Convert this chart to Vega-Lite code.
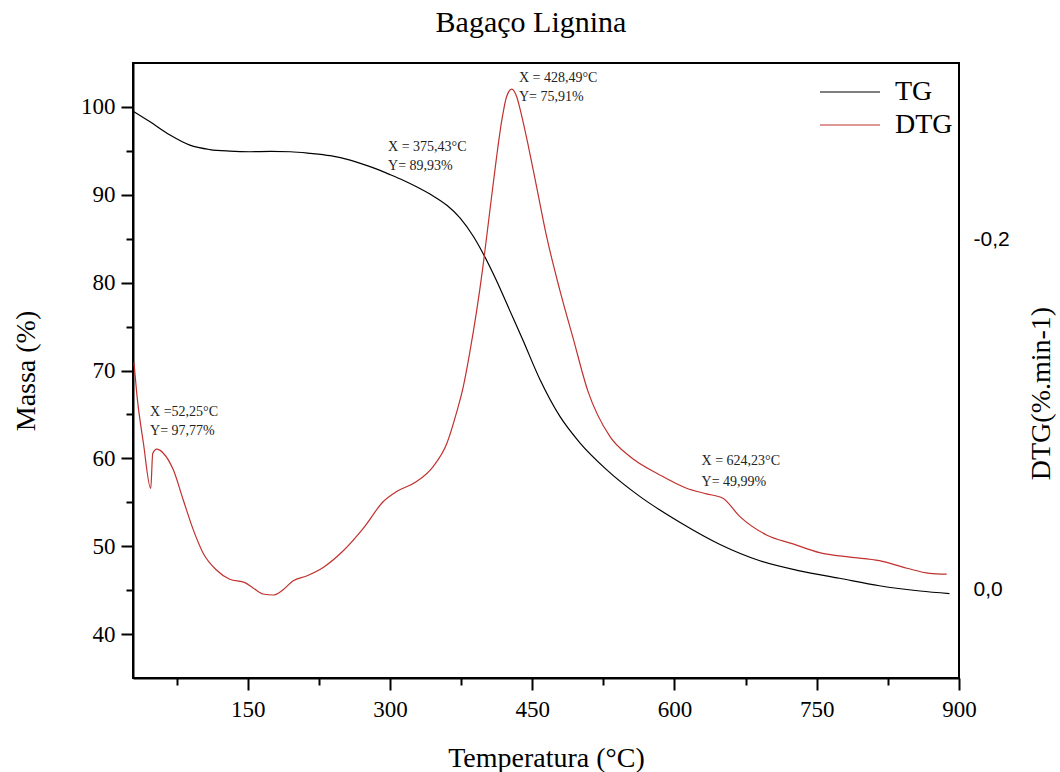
{
  "$schema": "https://vega.github.io/schema/vega-lite/v6.json",
  "width": 826,
  "height": 615,
  "autosize": {"type": "none"},
  "padding": {"left": 133, "top": 63, "right": 101, "bottom": 94},
  "background": "white",
  "title": {"text": "Bagaço Lignina", "font": "Liberation Serif", "fontSize": 30, "fontWeight": "normal", "color": "black", "offset": 25, "dx": -15},
  "datasets": {
    "tg": [
      {"T": 30, "massa": 99.45}, {"T": 47, "massa": 98.3}, {"T": 68, "massa": 96.8}, {"T": 89, "massa": 95.65},
      {"T": 110, "massa": 95.15}, {"T": 131, "massa": 94.97}, {"T": 152, "massa": 94.9}, {"T": 174, "massa": 94.93},
      {"T": 195, "massa": 94.9}, {"T": 216, "massa": 94.72}, {"T": 237, "massa": 94.45}, {"T": 258, "massa": 93.95},
      {"T": 279, "massa": 93.2}, {"T": 300, "massa": 92.3}, {"T": 315, "massa": 91.6}, {"T": 330, "massa": 90.8},
      {"T": 345, "massa": 89.9}, {"T": 360, "massa": 88.8}, {"T": 374, "massa": 87.35}, {"T": 388, "massa": 85.25}, {"T": 398, "massa": 83.35},
      {"T": 412, "massa": 80.3}, {"T": 426, "massa": 76.9}, {"T": 440, "massa": 73.5}, {"T": 458, "massa": 69.0},
      {"T": 479, "massa": 64.8}, {"T": 500, "massa": 61.8}, {"T": 528, "massa": 58.75}, {"T": 563, "massa": 55.7},
      {"T": 606, "massa": 52.7}, {"T": 648, "massa": 50.2}, {"T": 690, "massa": 48.35}, {"T": 732, "massa": 47.2},
      {"T": 774, "massa": 46.35}, {"T": 816, "massa": 45.5}, {"T": 859, "massa": 44.9}, {"T": 890, "massa": 44.6}
    ],
    "dtg": [
      {"T": 30, "dtg": -0.130}, {"T": 33, "dtg": -0.112}, {"T": 40, "dtg": -0.0838}, {"T": 47.7, "dtg": -0.058},
      {"T": 49.8, "dtg": -0.078}, {"T": 54, "dtg": -0.0804}, {"T": 61, "dtg": -0.0781}, {"T": 71.5, "dtg": -0.0686},
      {"T": 82, "dtg": -0.0514}, {"T": 92.6, "dtg": -0.0343}, {"T": 103, "dtg": -0.021}, {"T": 117, "dtg": -0.0114},
      {"T": 131, "dtg": -0.0061}, {"T": 147, "dtg": -0.0042}, {"T": 156, "dtg": -0.001}, {"T": 166, "dtg": 0.0023},
      {"T": 177, "dtg": 0.0029}, {"T": 187, "dtg": 0.0}, {"T": 198, "dtg": -0.0053}, {"T": 212, "dtg": -0.008},
      {"T": 230, "dtg": -0.013}, {"T": 251, "dtg": -0.0225}, {"T": 272, "dtg": -0.0353}, {"T": 293, "dtg": -0.0505},
      {"T": 307, "dtg": -0.0562}, {"T": 328, "dtg": -0.0619}, {"T": 345.5, "dtg": -0.0705}, {"T": 360, "dtg": -0.0838},
      {"T": 370, "dtg": -0.101}, {"T": 377, "dtg": -0.1154}, {"T": 384, "dtg": -0.1353}, {"T": 391, "dtg": -0.1581},
      {"T": 398, "dtg": -0.1847}, {"T": 405, "dtg": -0.2153}, {"T": 412, "dtg": -0.2457}, {"T": 418, "dtg": -0.2686},
      {"T": 423, "dtg": -0.2819}, {"T": 428.5, "dtg": -0.2861}, {"T": 433.5, "dtg": -0.2819}, {"T": 439, "dtg": -0.2705},
      {"T": 446, "dtg": -0.2533}, {"T": 454.5, "dtg": -0.2305}, {"T": 465, "dtg": -0.2023}, {"T": 479, "dtg": -0.1714},
      {"T": 493, "dtg": -0.144}, {"T": 508.6, "dtg": -0.1137}, {"T": 532, "dtg": -0.0876}, {"T": 553, "dtg": -0.0762},
      {"T": 584.5, "dtg": -0.0657}, {"T": 612.7, "dtg": -0.0581}, {"T": 633.7, "dtg": -0.0549}, {"T": 651, "dtg": -0.0524},
      {"T": 669, "dtg": -0.0419}, {"T": 697, "dtg": -0.0314}, {"T": 725, "dtg": -0.0263}, {"T": 753, "dtg": -0.0213},
      {"T": 785, "dtg": -0.0187}, {"T": 816, "dtg": -0.0167}, {"T": 845, "dtg": -0.0124}, {"T": 869, "dtg": -0.0095},
      {"T": 887, "dtg": -0.009}
    ],
    "notes": [
      {"T": 47, "massa": 65.33, "label": "X =52,25°C"},
      {"T": 47, "massa": 63.06, "label": "Y= 97,77%"},
      {"T": 298, "massa": 95.46, "label": "X = 375,43°C"},
      {"T": 298, "massa": 93.27, "label": "Y= 89,93%"},
      {"T": 436, "massa": 103.34, "label": "X = 428,49°C"},
      {"T": 436, "massa": 101.14, "label": "Y= 75,91%"},
      {"T": 628.5, "massa": 59.68, "label": "X = 624,23°C"},
      {"T": 628.5, "massa": 57.34, "label": "Y= 49,99%"}
    ]
  },
  "layer": [
    {
      "layer": [
        {
          "data": {"name": "tg"},
          "mark": {"type": "line", "strokeWidth": 1.2, "interpolate": "monotone"},
          "encoding": {
            "x": {"field": "T", "type": "quantitative", "scale": {"domain": [29, 900], "nice": false, "zero": false},
              "axis": {
                "title": "Temperatura (°C)",
                "values": [75, 150, 225, 300, 375, 450, 525, 600, 675, 750, 825, 900],
                "labelExpr": "datum.value % 150 === 0 ? datum.label : ''",
                "tickSize": {"condition": {"test": "datum.value % 150 === 0", "value": 12}, "value": 7},
                "labelPadding": 8,
                "titlePadding": 23
              }
            },
            "y": {"field": "massa", "type": "quantitative", "scale": {"domain": [35, 105], "nice": false, "zero": false},
              "axis": {
                "title": "Massa (%)",
                "orient": "left",
                "values": [40, 45, 50, 55, 60, 65, 70, 75, 80, 85, 90, 95, 100],
                "labelExpr": "datum.value % 10 === 0 ? datum.label : ''",
                "tickSize": {"condition": {"test": "datum.value % 10 === 0", "value": 12}, "value": 7},
                "labelPadding": 6,
                "titlePadding": 40
              }
            },
            "color": {"datum": "TG", "type": "nominal", "scale": {"domain": ["TG", "DTG"], "range": ["#000000", "#c0312f"]},
              "legend": {
                "title": null, "orient": "none", "legendX": 703, "legendY": 15,
                "symbolType": "M-3,0L3,0", "symbolSize": 400, "symbolStrokeWidth": 1.2,
                "labelFont": "Liberation Serif", "labelFontSize": 28, "labelColor": "black",
                "labelOffset": 31, "rowPadding": 5, "padding": 0
              }
            }
          }
        },
        {
          "data": {"name": "notes"},
          "mark": {"type": "text", "align": "left", "baseline": "middle", "font": "Liberation Serif", "fontSize": 14, "color": "#222222"},
          "encoding": {
            "x": {"field": "T", "type": "quantitative"},
            "y": {"field": "massa", "type": "quantitative"},
            "text": {"field": "label", "type": "nominal"}
          }
        }
      ]
    },
    {
      "data": {"name": "dtg"},
      "mark": {"type": "line", "strokeWidth": 1.2, "interpolate": "monotone"},
      "encoding": {
        "x": {"field": "T", "type": "quantitative"},
        "y": {"field": "dtg", "type": "quantitative", "scale": {"domain": [-0.301, 0.0503], "reverse": true, "nice": false, "zero": false},
          "axis": {
            "title": "DTG(%.min-1)",
            "orient": "right",
            "values": [-0.2, 0],
            "labelExpr": "(datum.value < 0 ? '-' : '') + replace(format(abs(datum.value), '.1f'), '.', ',')",
            "ticks": false,
            "domain": false,
            "labelFont": "Liberation Sans",
            "labelFontSize": 21,
            "labelPadding": 14,
            "titleAngle": 270,
            "titlePadding": 46,
            "titleY": 330
          }
        },
        "color": {"datum": "DTG", "type": "nominal"}
      }
    }
  ],
  "resolve": {"scale": {"y": "independent"}},
  "config": {
    "font": "Liberation Serif",
    "view": {"stroke": "black", "strokeWidth": 2},
    "axis": {
      "grid": false,
      "domainColor": "black",
      "domainWidth": 2,
      "tickColor": "black",
      "tickWidth": 2,
      "labelFont": "Liberation Serif",
      "labelFontSize": 23,
      "labelColor": "black",
      "labelFlush": false,
      "labelOverlap": false,
      "titleFont": "Liberation Serif",
      "titleFontSize": 28,
      "titleFontWeight": "normal",
      "titleColor": "black"
    }
  }
}
